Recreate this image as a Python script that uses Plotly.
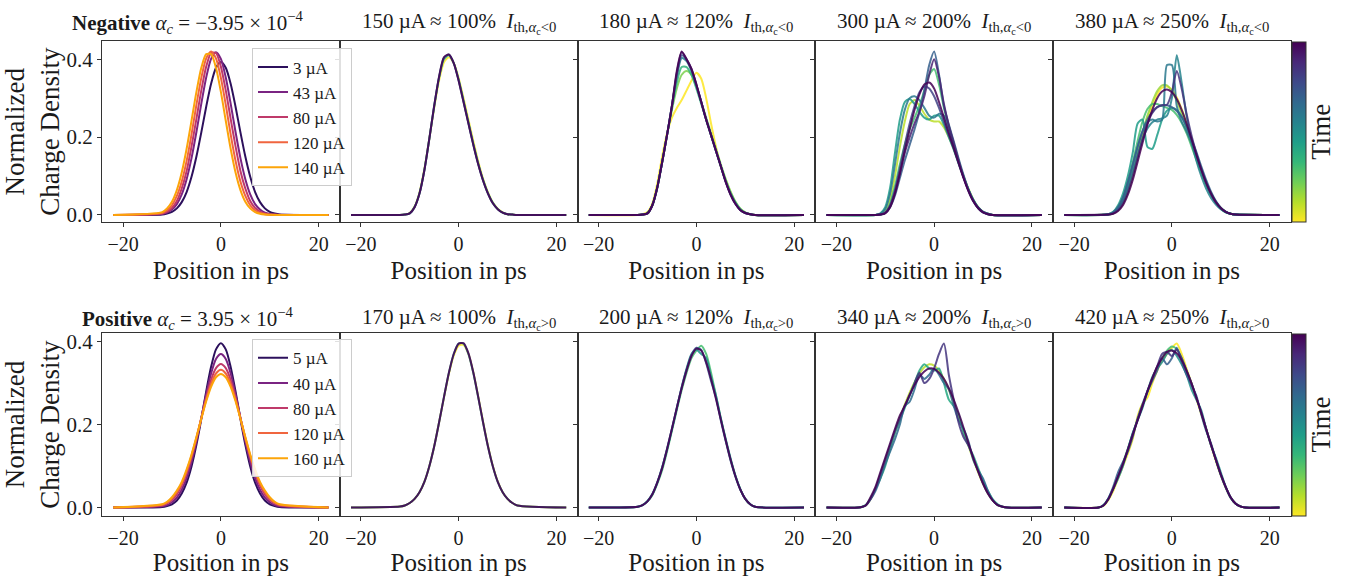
import plotly.graph_objects as go
from plotly.subplots import make_subplots
from plotly.colors import sample_colorscale

W, H = 1347, 576

# ---------------------------------------------------------------- grids (ps)
X_CORE = list(range(-12, 13))
X_MID = list(range(-13, 14))
X_WIDE = list(range(-15, 16))
X_EDGE = (-22, 22)  # profiles are flat at zero out to the window edges

# ---------------------------------------------------------------- negative alpha_c, low current
NEG_LOW_LABELS = ["3 µA", "43 µA", "80 µA", "120 µA", "140 µA"]
NEG_LOW = [
    [0.0015, 0.004, 0.008, 0.017, 0.033, 0.059, 0.098, 0.150, 0.212, 0.278, 0.337, 0.378, 0.393,
     0.378, 0.337, 0.278, 0.212, 0.150, 0.098, 0.059, 0.033, 0.017, 0.008, 0.004, 0.0015],
    [0.0026, 0.006, 0.014, 0.028, 0.053, 0.092, 0.146, 0.213, 0.286, 0.353, 0.401, 0.418, 0.401,
     0.353, 0.286, 0.213, 0.146, 0.092, 0.053, 0.028, 0.014, 0.006, 0.0026, 0.001, 0.0004],
    [0.0036, 0.0086, 0.018, 0.036, 0.068, 0.113, 0.176, 0.247, 0.320, 0.381, 0.416, 0.416, 0.381,
     0.320, 0.247, 0.176, 0.113, 0.068, 0.036, 0.018, 0.0086, 0.0036, 0.0014, 0.0005, 0.0002],
    [0.005, 0.012, 0.025, 0.049, 0.086, 0.139, 0.207, 0.283, 0.352, 0.402, 0.420, 0.402, 0.352,
     0.283, 0.207, 0.139, 0.086, 0.049, 0.025, 0.012, 0.005, 0.002, 0.0008, 0.0003, 0.0001],
    [0.0075, 0.017, 0.034, 0.064, 0.109, 0.170, 0.242, 0.316, 0.378, 0.413, 0.413, 0.378, 0.316,
     0.242, 0.170, 0.109, 0.064, 0.034, 0.017, 0.0075, 0.0031, 0.0012, 0.0004, 0.0001, 0.0],
]

# ---------------------------------------------------------------- positive alpha_c, low current
POS_LOW_LABELS = ["5 µA", "40 µA", "80 µA", "120 µA", "160 µA"]
POS_LOW = [
    [0.0015, 0.004, 0.008, 0.017, 0.034, 0.060, 0.099, 0.151, 0.213, 0.280, 0.339, 0.381, 0.396,
     0.381, 0.339, 0.280, 0.213, 0.151, 0.099, 0.060, 0.034, 0.017, 0.008, 0.004, 0.0015],
    [0.003, 0.006, 0.013, 0.024, 0.043, 0.071, 0.110, 0.159, 0.216, 0.273, 0.323, 0.358, 0.370,
     0.358, 0.323, 0.273, 0.216, 0.159, 0.110, 0.071, 0.043, 0.024, 0.013, 0.006, 0.003],
    [0.005, 0.010, 0.018, 0.032, 0.053, 0.082, 0.120, 0.166, 0.216, 0.265, 0.308, 0.336, 0.346,
     0.336, 0.308, 0.265, 0.216, 0.166, 0.120, 0.082, 0.053, 0.032, 0.018, 0.010, 0.005],
    [0.007, 0.012, 0.022, 0.037, 0.058, 0.088, 0.125, 0.168, 0.215, 0.260, 0.298, 0.323, 0.332,
     0.323, 0.298, 0.260, 0.215, 0.168, 0.125, 0.088, 0.058, 0.037, 0.022, 0.012, 0.007],
    [0.008, 0.014, 0.025, 0.041, 0.062, 0.092, 0.128, 0.170, 0.214, 0.256, 0.291, 0.314, 0.322,
     0.314, 0.291, 0.256, 0.214, 0.170, 0.128, 0.092, 0.062, 0.041, 0.025, 0.014, 0.008],
]
LOW_COLORS = ["#2c105c", "#7a2482", "#bf3a6a", "#f0653f", "#fca50a"]

# ---------------------------------------------------------------- negative alpha_c, time series
NEG_150_T = [0.0, 0.4, 0.7, 1.0]
NEG_150 = [
    [0, 0.001, 0.005, 0.022, 0.058, 0.118, 0.195, 0.275, 0.345, 0.392, 0.405, 0.390, 0.352,
     0.300, 0.245, 0.190, 0.138, 0.093, 0.058, 0.032, 0.016, 0.007, 0.002, 0.001, 0],
    [0, 0.001, 0.004, 0.021, 0.056, 0.116, 0.195, 0.278, 0.352, 0.400, 0.410, 0.390, 0.348,
     0.294, 0.238, 0.183, 0.133, 0.090, 0.056, 0.031, 0.015, 0.006, 0.002, 0.001, 0],
    [0, 0.001, 0.004, 0.020, 0.055, 0.115, 0.195, 0.280, 0.354, 0.404, 0.412, 0.390, 0.346,
     0.291, 0.236, 0.181, 0.131, 0.089, 0.055, 0.030, 0.015, 0.006, 0.002, 0.001, 0],
    [0, 0.001, 0.004, 0.020, 0.055, 0.115, 0.195, 0.280, 0.355, 0.405, 0.412, 0.390, 0.345,
     0.290, 0.235, 0.180, 0.130, 0.088, 0.055, 0.030, 0.015, 0.006, 0.002, 0.001, 0],
]

NEG_180_T = [0.0, 0.2, 0.35, 0.55, 0.75, 0.9, 1.0]
NEG_180 = [
    [0, 0.002, 0.008, 0.030, 0.080, 0.150, 0.210, 0.250, 0.275, 0.295, 0.320, 0.345, 0.365,
     0.350, 0.300, 0.235, 0.175, 0.125, 0.090, 0.058, 0.032, 0.015, 0.006, 0.002, 0],
    [0, 0.001, 0.005, 0.025, 0.070, 0.135, 0.205, 0.270, 0.325, 0.360, 0.370, 0.360, 0.330,
     0.290, 0.250, 0.210, 0.170, 0.130, 0.092, 0.060, 0.034, 0.016, 0.007, 0.002, 0],
    [0, 0.001, 0.005, 0.025, 0.070, 0.135, 0.205, 0.275, 0.340, 0.380, 0.380, 0.360, 0.325,
     0.285, 0.245, 0.205, 0.165, 0.125, 0.088, 0.056, 0.032, 0.015, 0.006, 0.002, 0],
    [0, 0.001, 0.004, 0.025, 0.070, 0.135, 0.205, 0.280, 0.355, 0.403, 0.395, 0.370, 0.332,
     0.290, 0.245, 0.205, 0.165, 0.125, 0.086, 0.054, 0.030, 0.013, 0.005, 0.002, 0],
    [0, 0.001, 0.004, 0.025, 0.070, 0.135, 0.205, 0.280, 0.360, 0.410, 0.398, 0.372, 0.333,
     0.290, 0.245, 0.205, 0.165, 0.125, 0.085, 0.053, 0.029, 0.013, 0.005, 0.002, 0],
    [0, 0.001, 0.004, 0.025, 0.070, 0.135, 0.205, 0.280, 0.365, 0.418, 0.400, 0.375, 0.335,
     0.290, 0.245, 0.205, 0.165, 0.125, 0.085, 0.052, 0.028, 0.012, 0.005, 0.002, 0],
    [0, 0.001, 0.004, 0.025, 0.070, 0.135, 0.205, 0.280, 0.370, 0.420, 0.400, 0.375, 0.335,
     0.290, 0.245, 0.205, 0.165, 0.125, 0.085, 0.052, 0.028, 0.012, 0.005, 0.002, 0],
]

NEG_300_T = [0.1, 0.3, 0.45, 0.6, 0.7, 0.8, 0.9, 1.0]
NEG_300 = [
    [0, 0.002, 0.010, 0.040, 0.100, 0.175, 0.240, 0.285, 0.295, 0.280, 0.260, 0.245, 0.240,
     0.240, 0.225, 0.200, 0.170, 0.135, 0.100, 0.068, 0.040, 0.020, 0.008, 0.003, 0],
    [0, 0.001, 0.006, 0.030, 0.075, 0.130, 0.180, 0.220, 0.250, 0.280, 0.320, 0.360, 0.375,
     0.335, 0.275, 0.228, 0.183, 0.140, 0.100, 0.065, 0.037, 0.018, 0.007, 0.002, 0],
    [0, 0.004, 0.020, 0.070, 0.160, 0.245, 0.290, 0.298, 0.285, 0.265, 0.250, 0.245, 0.255,
     0.255, 0.232, 0.200, 0.168, 0.132, 0.098, 0.066, 0.040, 0.020, 0.008, 0.003, 0],
    [0, 0.003, 0.015, 0.055, 0.130, 0.210, 0.270, 0.300, 0.305, 0.295, 0.275, 0.255, 0.250,
     0.260, 0.255, 0.220, 0.175, 0.135, 0.098, 0.065, 0.038, 0.019, 0.008, 0.003, 0],
    [0, 0.001, 0.005, 0.020, 0.050, 0.095, 0.140, 0.180, 0.220, 0.265, 0.320, 0.385, 0.420,
     0.360, 0.280, 0.232, 0.190, 0.145, 0.103, 0.066, 0.037, 0.018, 0.007, 0.002, 0],
    [0, 0.001, 0.006, 0.025, 0.065, 0.120, 0.180, 0.235, 0.280, 0.315, 0.330, 0.325, 0.305,
     0.275, 0.240, 0.205, 0.172, 0.135, 0.098, 0.065, 0.038, 0.019, 0.008, 0.003, 0],
    [0, 0.001, 0.005, 0.022, 0.058, 0.110, 0.160, 0.200, 0.235, 0.265, 0.305, 0.360, 0.400,
     0.355, 0.285, 0.230, 0.185, 0.140, 0.097, 0.062, 0.035, 0.017, 0.006, 0.002, 0],
    [0, 0.001, 0.004, 0.020, 0.055, 0.105, 0.165, 0.220, 0.270, 0.310, 0.335, 0.340, 0.325,
     0.290, 0.250, 0.210, 0.172, 0.133, 0.095, 0.062, 0.036, 0.018, 0.007, 0.002, 0],
]

NEG_380_T = [0.0, 0.15, 0.3, 0.45, 0.55, 0.6, 0.7, 0.85, 1.0]
NEG_380 = [
    [0.001, 0.004, 0.012, 0.030, 0.060, 0.100, 0.150, 0.200, 0.245, 0.280, 0.310, 0.327, 0.330, 0.322,
     0.302, 0.272, 0.235, 0.195, 0.155, 0.117, 0.083, 0.055, 0.033, 0.018, 0.008, 0.003, 0.001],
    [0.001, 0.005, 0.014, 0.035, 0.068, 0.110, 0.160, 0.210, 0.255, 0.290, 0.318, 0.333, 0.333, 0.318,
     0.293, 0.260, 0.222, 0.183, 0.145, 0.110, 0.078, 0.052, 0.032, 0.017, 0.008, 0.003, 0.001],
    [0.002, 0.007, 0.020, 0.045, 0.085, 0.135, 0.190, 0.240, 0.272, 0.285, 0.285, 0.280, 0.275, 0.270,
     0.257, 0.237, 0.210, 0.177, 0.142, 0.108, 0.077, 0.051, 0.031, 0.016, 0.007, 0.003, 0.001],
    [0.002, 0.008, 0.025, 0.055, 0.100, 0.160, 0.235, 0.245, 0.175, 0.170, 0.205, 0.245, 0.268, 0.275,
     0.270, 0.252, 0.225, 0.192, 0.157, 0.120, 0.085, 0.056, 0.034, 0.018, 0.008, 0.003, 0.001],
    [0.001, 0.005, 0.015, 0.035, 0.068, 0.110, 0.155, 0.195, 0.222, 0.238, 0.245, 0.248, 0.255, 0.300,
     0.410, 0.340, 0.255, 0.190, 0.140, 0.100, 0.068, 0.044, 0.027, 0.015, 0.007, 0.003, 0.001],
    [0.001, 0.005, 0.016, 0.040, 0.078, 0.125, 0.175, 0.215, 0.238, 0.245, 0.240, 0.245, 0.385, 0.385,
     0.280, 0.240, 0.215, 0.185, 0.152, 0.117, 0.083, 0.055, 0.033, 0.018, 0.008, 0.003, 0.001],
    [0.002, 0.007, 0.020, 0.045, 0.085, 0.130, 0.175, 0.215, 0.245, 0.265, 0.277, 0.282, 0.282, 0.277,
     0.267, 0.252, 0.228, 0.197, 0.162, 0.125, 0.090, 0.060, 0.036, 0.019, 0.009, 0.003, 0.001],
    [0.001, 0.004, 0.012, 0.030, 0.060, 0.100, 0.148, 0.195, 0.235, 0.262, 0.277, 0.282, 0.283, 0.315,
     0.370, 0.325, 0.260, 0.205, 0.158, 0.117, 0.082, 0.054, 0.032, 0.017, 0.008, 0.003, 0.001],
    [0.001, 0.003, 0.010, 0.025, 0.052, 0.090, 0.137, 0.185, 0.232, 0.270, 0.300, 0.317, 0.322, 0.315,
     0.298, 0.270, 0.235, 0.195, 0.155, 0.117, 0.083, 0.055, 0.033, 0.018, 0.008, 0.003, 0.001],
]

# ---------------------------------------------------------------- positive alpha_c, time series
POS_170_T = [0.0, 0.5, 1.0]
POS_170 = [
    [0.0024, 0.005, 0.011, 0.021, 0.037, 0.062, 0.099, 0.147, 0.205, 0.265, 0.322, 0.366, 0.390,
     0.392, 0.370, 0.326, 0.268, 0.207, 0.149, 0.100, 0.063, 0.037, 0.021, 0.011, 0.005],
    [0.0024, 0.005, 0.011, 0.021, 0.037, 0.062, 0.099, 0.147, 0.205, 0.266, 0.324, 0.370, 0.395,
     0.395, 0.370, 0.324, 0.266, 0.205, 0.147, 0.099, 0.062, 0.037, 0.021, 0.011, 0.005],
    [0.0024, 0.005, 0.011, 0.021, 0.037, 0.062, 0.099, 0.147, 0.205, 0.266, 0.324, 0.370, 0.395,
     0.396, 0.372, 0.326, 0.267, 0.205, 0.147, 0.099, 0.062, 0.037, 0.021, 0.011, 0.005],
]

POS_200_T = [0.3, 0.5, 0.75, 1.0]
POS_200 = [
    [0.002, 0.006, 0.015, 0.030, 0.057, 0.090, 0.135, 0.185, 0.235, 0.283, 0.325, 0.360, 0.378,
     0.390, 0.370, 0.325, 0.270, 0.215, 0.163, 0.116, 0.076, 0.044, 0.021, 0.008, 0.002],
    [0.002, 0.006, 0.016, 0.033, 0.060, 0.097, 0.140, 0.188, 0.240, 0.290, 0.335, 0.370, 0.380,
     0.370, 0.360, 0.315, 0.270, 0.215, 0.165, 0.118, 0.076, 0.044, 0.021, 0.008, 0.002],
    [0.002, 0.006, 0.015, 0.032, 0.060, 0.096, 0.142, 0.190, 0.240, 0.290, 0.333, 0.368, 0.385,
     0.380, 0.348, 0.305, 0.265, 0.210, 0.160, 0.113, 0.074, 0.043, 0.021, 0.008, 0.002],
    [0.002, 0.006, 0.015, 0.032, 0.060, 0.095, 0.140, 0.190, 0.240, 0.288, 0.330, 0.365, 0.383,
     0.378, 0.350, 0.310, 0.262, 0.212, 0.162, 0.115, 0.075, 0.043, 0.021, 0.008, 0.002],
]

POS_340_T = [0.1, 0.4, 0.65, 0.85, 1.0]
POS_340 = [
    [0.001, 0.005, 0.020, 0.045, 0.078, 0.112, 0.147, 0.182, 0.216, 0.248, 0.277, 0.302, 0.323, 0.338,
     0.345, 0.342, 0.330, 0.310, 0.284, 0.254, 0.220, 0.185, 0.150, 0.116, 0.085, 0.057, 0.034, 0.017,
     0.006, 0.002, 0],
    [0.001, 0.006, 0.022, 0.045, 0.070, 0.100, 0.140, 0.180, 0.210, 0.240, 0.270, 0.300, 0.330, 0.345,
     0.335, 0.330, 0.335, 0.300, 0.260, 0.245, 0.225, 0.180, 0.150, 0.125, 0.095, 0.065, 0.040, 0.020,
     0.008, 0.002, 0],
    [0.001, 0.005, 0.020, 0.040, 0.070, 0.105, 0.135, 0.165, 0.200, 0.245, 0.255, 0.285, 0.320, 0.310,
     0.320, 0.335, 0.320, 0.300, 0.285, 0.245, 0.210, 0.190, 0.160, 0.115, 0.090, 0.070, 0.040, 0.018,
     0.006, 0.002, 0],
    [0.001, 0.005, 0.020, 0.045, 0.080, 0.115, 0.150, 0.185, 0.215, 0.245, 0.270, 0.300, 0.325, 0.300,
     0.310, 0.335, 0.370, 0.395, 0.320, 0.260, 0.205, 0.170, 0.150, 0.120, 0.088, 0.058, 0.034, 0.017,
     0.006, 0.002, 0],
    [0.001, 0.005, 0.025, 0.050, 0.085, 0.120, 0.155, 0.190, 0.222, 0.245, 0.272, 0.295, 0.315, 0.328,
     0.335, 0.334, 0.325, 0.310, 0.288, 0.260, 0.228, 0.193, 0.156, 0.120, 0.087, 0.058, 0.034, 0.017,
     0.006, 0.002, 0],
]

POS_420_T = [0.0, 0.3, 0.5, 0.7, 0.85, 1.0]
POS_420 = [
    [0, 0.004, 0.018, 0.040, 0.070, 0.100, 0.130, 0.165, 0.220, 0.250, 0.265, 0.300, 0.330, 0.355,
     0.370, 0.385, 0.395, 0.370, 0.335, 0.300, 0.262, 0.225, 0.190, 0.150, 0.112, 0.078, 0.048, 0.024,
     0.010, 0.003, 0],
    [0, 0.005, 0.020, 0.045, 0.075, 0.108, 0.142, 0.178, 0.212, 0.245, 0.278, 0.310, 0.338, 0.360,
     0.378, 0.388, 0.382, 0.360, 0.330, 0.300, 0.265, 0.228, 0.190, 0.152, 0.115, 0.080, 0.050, 0.025,
     0.010, 0.003, 0],
    [0, 0.006, 0.022, 0.045, 0.070, 0.100, 0.140, 0.180, 0.210, 0.240, 0.280, 0.315, 0.335, 0.350,
     0.370, 0.380, 0.365, 0.345, 0.320, 0.285, 0.260, 0.235, 0.190, 0.150, 0.120, 0.085, 0.050, 0.024,
     0.010, 0.003, 0],
    [0, 0.005, 0.022, 0.050, 0.085, 0.110, 0.135, 0.170, 0.215, 0.250, 0.280, 0.305, 0.330, 0.360,
     0.345, 0.360, 0.385, 0.350, 0.320, 0.295, 0.270, 0.225, 0.185, 0.155, 0.115, 0.078, 0.048, 0.024,
     0.010, 0.003, 0],
    [0, 0.005, 0.020, 0.045, 0.075, 0.105, 0.140, 0.178, 0.212, 0.245, 0.280, 0.310, 0.340, 0.370,
     0.375, 0.365, 0.380, 0.360, 0.330, 0.300, 0.265, 0.230, 0.190, 0.150, 0.115, 0.080, 0.050, 0.025,
     0.010, 0.003, 0],
    [0, 0.005, 0.020, 0.045, 0.075, 0.105, 0.140, 0.175, 0.210, 0.245, 0.280, 0.312, 0.340, 0.360,
     0.375, 0.378, 0.372, 0.355, 0.330, 0.300, 0.265, 0.228, 0.190, 0.152, 0.115, 0.080, 0.050, 0.025,
     0.010, 0.003, 0],
]

# ---------------------------------------------------------------- titles
TITLES_TOP = [
    "<b>Negative</b> <i>α</i><sub><i>c</i></sub> = −3.95 × 10<sup>−4</sup>",
    "150 µA ≈ 100%  <i>I</i><sub>th,<i>α</i><sub>c</sub>&lt;0</sub>",
    "180 µA ≈ 120%  <i>I</i><sub>th,<i>α</i><sub>c</sub>&lt;0</sub>",
    "300 µA ≈ 200%  <i>I</i><sub>th,<i>α</i><sub>c</sub>&lt;0</sub>",
    "380 µA ≈ 250%  <i>I</i><sub>th,<i>α</i><sub>c</sub>&lt;0</sub>",
]
TITLES_BOT = [
    "<b>Positive</b> <i>α</i><sub><i>c</i></sub> = 3.95 × 10<sup>−4</sup>",
    "170 µA ≈ 100%  <i>I</i><sub>th,<i>α</i><sub>c</sub>&gt;0</sub>",
    "200 µA ≈ 120%  <i>I</i><sub>th,<i>α</i><sub>c</sub>&gt;0</sub>",
    "340 µA ≈ 200%  <i>I</i><sub>th,<i>α</i><sub>c</sub>&gt;0</sub>",
    "420 µA ≈ 250%  <i>I</i><sub>th,<i>α</i><sub>c</sub>&gt;0</sub>",
]

FONT = "Liberation Serif"
INK = "#1a1a1a"

# panel frame positions in pixels
COL_EDGES = [102, 339.75, 577.5, 815.25, 1053, 1290.75]
ROW_SPANS = [(39, 222), (335, 520)]
TITLE_Y = [20, 320]
Y_RANGES = [(-0.0178, 0.4456), (-0.0197, 0.4197)]
X_RANGE = (-24.3, 24.3)


def px_x(p):
    return p / W


def px_y(p):
    return 1 - p / H


fig = make_subplots(rows=2, cols=5)


def add_profile(row, col, xs, ys, color, width=2.0, opacity=1.0, name=None, legend=None):
    x = [X_EDGE[0]] + list(xs) + [X_EDGE[1]]
    y = [0.0] + list(ys) + [0.0]
    fig.add_trace(
        go.Scatter(
            x=x, y=y, mode="lines", name=name,
            line=dict(color=color, width=width, shape="spline", smoothing=0.7),
            opacity=opacity, showlegend=name is not None,
            legend=legend, hoverinfo="skip",
        ),
        row=row, col=col,
    )


def time_color(t):
    # early = yellow, late = purple
    return sample_colorscale("Viridis", [1.0 - t])[0]


# legend panels
for ys, lab, c in zip(NEG_LOW, NEG_LOW_LABELS, LOW_COLORS):
    add_profile(1, 1, X_CORE, ys, c, width=2.0, name=lab, legend="legend")
for ys, lab, c in zip(POS_LOW, POS_LOW_LABELS, LOW_COLORS):
    add_profile(2, 1, X_CORE, ys, c, width=2.0, name=lab, legend="legend2")

# time-series panels
SERIES = [
    (1, 2, X_CORE, NEG_150, NEG_150_T),
    (1, 3, X_CORE, NEG_180, NEG_180_T),
    (1, 4, X_CORE, NEG_300, NEG_300_T),
    (1, 5, X_MID, NEG_380, NEG_380_T),
    (2, 2, X_CORE, POS_170, POS_170_T),
    (2, 3, X_CORE, POS_200, POS_200_T),
    (2, 4, X_WIDE, POS_340, POS_340_T),
    (2, 5, X_WIDE, POS_420, POS_420_T),
]
for row, col, xs, curves, times in SERIES:
    for ys, t in zip(curves, times):
        add_profile(row, col, xs, ys, time_color(t), width=2.0, opacity=0.85)

# colour bars ("Time")
for r, (top, bot) in enumerate(ROW_SPANS):
    fig.add_trace(
        go.Scatter(
            x=[None], y=[None], mode="markers", showlegend=False, hoverinfo="skip",
            marker=dict(
                color=[0.0], cmin=0, cmax=1, colorscale="Viridis", reversescale=True,
                showscale=True,
                colorbar=dict(
                    x=px_x(1292), xanchor="left", xpad=0, ypad=0,
                    y=px_y((top + bot) / 2), yanchor="middle",
                    len=(bot - top) / H, lenmode="fraction",
                    thickness=14, outlinewidth=1, outlinecolor="#333",
                    ticks="", showticklabels=False,
                    title=dict(text="Time", side="right",
                               font=dict(family=FONT, size=27, color=INK)),
                ),
            ),
        ),
        row=r + 1, col=5,
    )

# axes
for r in range(2):
    top, bot = ROW_SPANS[r]
    for c in range(5):
        idx = r * 5 + c + 1
        sfx = "" if idx == 1 else str(idx)
        fig.layout["xaxis" + sfx].update(
            domain=[px_x(COL_EDGES[c]), px_x(COL_EDGES[c + 1])],
            range=list(X_RANGE), tickvals=[-20, 0, 20],
            ticks="outside", ticklen=4, tickwidth=1, tickcolor="#333",
            showline=True, mirror=True, linecolor="#333", linewidth=1,
            showgrid=False, zeroline=False,
            tickfont=dict(family=FONT, size=20, color=INK),
            title=dict(text="Position in ps", standoff=7,
                       font=dict(family=FONT, size=25, color=INK)),
        )
        fig.layout["yaxis" + sfx].update(
            domain=[px_y(bot), px_y(top)],
            range=list(Y_RANGES[r]), tickvals=[0, 0.2, 0.4],
            ticktext=["0.0", "0.2", "0.4"],
            ticks="outside", ticklen=4, tickwidth=1, tickcolor="#333",
            showline=True, mirror=True, linecolor="#333", linewidth=1,
            showgrid=False, zeroline=False, showticklabels=(c == 0),
            tickfont=dict(family=FONT, size=21, color=INK),
        )
        if c == 0:
            fig.layout["yaxis" + sfx].title = dict(
                text="Normalized<br>Charge Density", standoff=4,
                font=dict(family=FONT, size=27, color=INK),
            )

# panel titles
annotations = []
for r, titles in enumerate([TITLES_TOP, TITLES_BOT]):
    for c, text in enumerate(titles):
        cx = 188 if c == 0 else (COL_EDGES[c] + COL_EDGES[c + 1]) / 2
        annotations.append(dict(
            text=text, x=px_x(cx), y=px_y(TITLE_Y[r]), xref="paper", yref="paper",
            xanchor="center", yanchor="middle", showarrow=False,
            font=dict(family=FONT, size=21, color=INK),
        ))

legend_style = dict(
    xanchor="left", yanchor="top", bgcolor="rgba(255,255,255,0.85)",
    bordercolor="#cccccc", borderwidth=1, itemwidth=30,
    font=dict(family=FONT, size=17, color=INK), tracegroupgap=0,
)
fig.update_layout(
    width=W, height=H, margin=dict(l=0, r=0, t=0, b=0),
    paper_bgcolor="white", plot_bgcolor="white",
    annotations=annotations,
    legend=dict(x=px_x(252), y=px_y(46), **legend_style),
    legend2=dict(x=px_x(252), y=px_y(341), **legend_style),
)

fig.write_html("out.html")
